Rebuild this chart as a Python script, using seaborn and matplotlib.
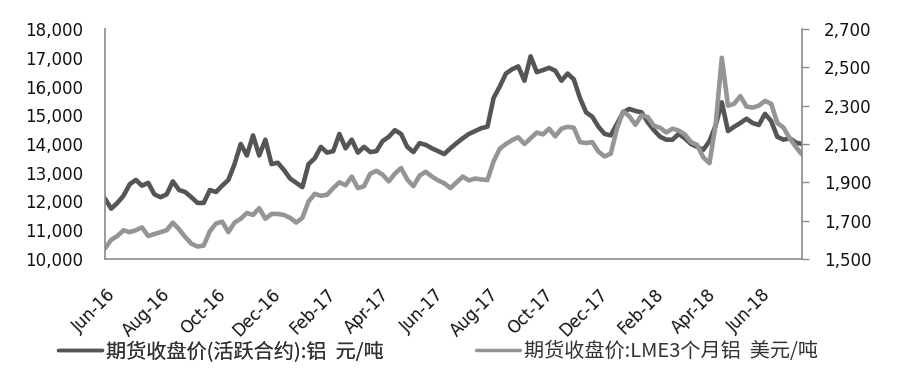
import matplotlib
matplotlib.use("Agg")
import numpy as np
import pandas as pd
import seaborn as sns
import matplotlib.pyplot as plt
import matplotlib.dates as mdates
from matplotlib.ticker import FuncFormatter, MultipleLocator, FixedLocator

# ---- data (roughly weekly) ----
shfe = [12100, 11750, 11950, 12200, 12600, 12750, 12550, 12650, 12250, 12150,
        12250, 12700, 12400, 12330, 12150, 11950, 11950, 12400, 12330, 12550,
        12750, 13300, 14000, 13600, 14300, 13600, 14150, 13300, 13350, 13100,
        12800, 12650, 12500, 13300, 13500, 13900, 13700, 13750, 14350, 13850,
        14150, 13700, 13900, 13720, 13750, 14100, 14250, 14480, 14350, 13900,
        13720, 14030, 13970, 13850, 13750, 13650, 13850, 14030, 14200, 14350,
        14450, 14550, 14600, 15600, 16000, 16450, 16600, 16700, 16200, 17050,
        16500, 16570, 16650, 16550, 16200, 16450, 16250, 15600, 15100, 14950,
        14600, 14350, 14300, 14700, 15100, 15220, 15150, 15100, 14750, 14480,
        14250, 14150, 14150, 14350, 14200, 14000, 13900, 13800, 14100, 14650,
        15450, 14450, 14600, 14730, 14880, 14730, 14660, 15050, 14800, 14250,
        14150, 14200, 14050, 14000]

lme = [1555, 1600, 1620, 1650, 1640, 1650, 1665, 1620, 1630, 1640,
       1650, 1690, 1655, 1615, 1580, 1565, 1570, 1645, 1685, 1695,
       1640, 1690, 1710, 1740, 1730, 1765, 1710, 1735, 1735, 1730,
       1715, 1690, 1715, 1800, 1840, 1830, 1835, 1870, 1900, 1885,
       1930, 1870, 1880, 1945, 1960, 1940, 1905, 1945, 1975, 1915,
       1880, 1935, 1955, 1930, 1910, 1895, 1870, 1900, 1930, 1910,
       1920, 1915, 1912, 2010, 2075, 2100, 2120, 2135, 2100, 2130,
       2160, 2150, 2180, 2140, 2180, 2190, 2185, 2110, 2105, 2110,
       2060, 2035, 2050, 2180, 2270, 2245, 2200, 2250, 2240, 2195,
       2185, 2160, 2180, 2170, 2150, 2110, 2095, 2030, 2000, 2200,
       2550, 2300, 2310, 2350, 2295, 2290, 2300, 2325, 2310, 2210,
       2185, 2130, 2085, 2045]

dates = pd.date_range("2016-05-30", periods=len(shfe), freq="165h")

left_ticks = [10000, 11000, 12000, 13000, 14000, 15000, 16000, 17000, 18000]
right_ticks = [1500, 1700, 1900, 2100, 2300, 2500, 2700]

label_shfe = "期货收盘价(活跃合约):铝  元/吨"
label_lme = "期货收盘价:LME3个月铝  美元/吨"

# ---- style ----
sns.set_theme(style="white")
plt.rcParams["font.family"] = ["DejaVu Sans", "Noto Sans CJK SC"]

DARK = "#555555"
LIGHT = "#959595"
SPINE = "#8a8a8a"

fig = plt.figure(figsize=(9, 3.77), dpi=100)
ax = fig.add_axes([105 / 900, 1 - 259 / 377, 697 / 900, 230 / 377])
ax2 = ax.twinx()

sns.lineplot(x=dates, y=shfe, ax=ax, color=DARK, linewidth=3.3, legend=False)
sns.lineplot(x=dates, y=lme, ax=ax2, color=LIGHT, linewidth=3.3, legend=False)

ax.set_xlim(dates[0], dates[-1])
ax.set_ylim(left_ticks[0], left_ticks[-1])
ax2.set_ylim(right_ticks[0], right_ticks[-1])
ax.yaxis.set_major_locator(FixedLocator(left_ticks))
ax2.yaxis.set_major_locator(FixedLocator(right_ticks))
fmt = FuncFormatter(lambda v, p: f"{v:,.0f}")
ax.yaxis.set_major_formatter(fmt)
ax2.yaxis.set_major_formatter(fmt)
for a in (ax, ax2):
    a.set_xlabel("")
    a.set_ylabel("")

ax.xaxis.set_major_locator(mdates.MonthLocator(bymonth=[2, 4, 6, 8, 10, 12]))
ax.xaxis.set_major_formatter(mdates.DateFormatter("%b-%y"))

# spines
for s in ("top", "right"):
    ax.spines[s].set_visible(False)
for s in ("top", "left", "bottom"):
    ax2.spines[s].set_visible(False)
for s in ("left", "bottom"):
    ax.spines[s].set_color(SPINE)
    ax.spines[s].set_linewidth(1.2)
ax2.spines["right"].set_color(SPINE)
ax2.spines["right"].set_linewidth(1.2)

ax.tick_params(axis="y", length=0, pad=16, labelsize=12, labelcolor="#111111")
ax.tick_params(axis="x", length=0, pad=19, labelsize=12, labelcolor="#111111")
ax2.tick_params(axis="y", right=True, length=5, width=1, color=SPINE,
                direction="out", pad=11, labelsize=12, labelcolor="#111111")

for lab in ax.get_xticklabels():
    lab.set_rotation(45)
    lab.set_ha("right")
    lab.set_va("top")
    lab.set_rotation_mode("anchor")

# legend
h1 = ax.get_lines()[0]
h2 = ax2.get_lines()[0]
cjk = {"family": ["Noto Sans CJK SC", "DejaVu Sans"], "size": 14.5}
leg1 = fig.legend([h1], [label_shfe], loc="center left",
                  bbox_to_anchor=(58 / 900, 1 - 352 / 377), frameon=False,
                  prop=cjk, handlelength=2.2, handletextpad=0.2,
                  borderpad=0, borderaxespad=0)
leg2 = fig.legend([h2], [label_lme], loc="center left",
                  bbox_to_anchor=(476 / 900, 1 - 352 / 377), frameon=False,
                  prop=cjk, handlelength=2.2, handletextpad=0.2,
                  borderpad=0, borderaxespad=0)
fig.add_artist(leg1)
for lg in (leg1, leg2):
    for t in lg.get_texts():
        t.set_color("#333333")
    for l in lg.get_lines():
        l.set_linewidth(2.5)

fig.savefig("out.png", dpi=100)
